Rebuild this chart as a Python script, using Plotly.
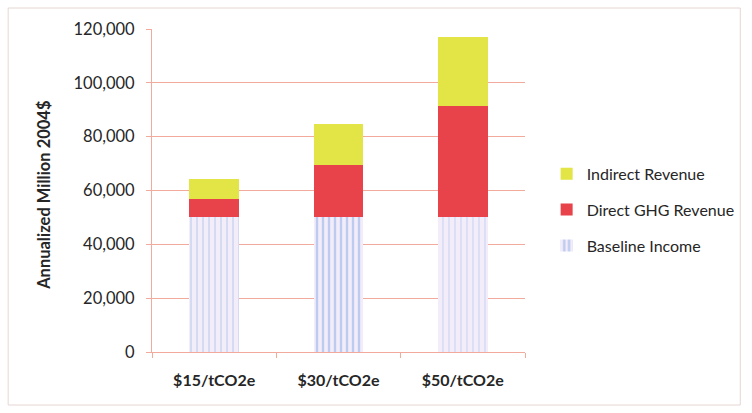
import plotly.graph_objects as go

# Carbon price scenarios and annualized income components (million 2004$)
scenarios = ["$15/tCO2e", "$30/tCO2e", "$50/tCO2e"]
baseline_income = [50000, 50000, 50000]
direct_ghg_revenue = [7000, 19500, 41400]
indirect_revenue = [7100, 15200, 25500]

y_ticks = [0, 20000, 40000, 60000, 80000, 100000, 120000]

grid_color = "#f2aa9c"
text_color = "#262626"
font_family = "Lato, 'Open Sans', sans-serif"

fig = go.Figure()

fig.add_trace(go.Bar(
    x=scenarios, y=baseline_income, name="Baseline Income",
    legendgroup="c", legendrank=3, width=0.4,
    marker=dict(
        color="#f3ecf9",
        line=dict(width=0),
        pattern=dict(shape="|", fgcolor="#a9c0ec", bgcolor="#f3ecf9",
                     size=6, solidity=[0.18, 0.4, 0.14], fgopacity=0.75),
    ),
))
fig.add_trace(go.Bar(
    x=scenarios, y=direct_ghg_revenue, name="Direct GHG Revenue",
    legendgroup="b", legendrank=2, width=0.4,
    marker=dict(color="#e8434b", line=dict(width=0)),
))
fig.add_trace(go.Bar(
    x=scenarios, y=indirect_revenue, name="Indirect Revenue",
    legendgroup="a", legendrank=1, width=0.4,
    marker=dict(color="#e3e445", line=dict(width=0)),
))

fig.update_layout(
    width=752, height=413,
    margin=dict(l=152, r=224, t=29, b=61),
    barmode="stack",
    paper_bgcolor="white", plot_bgcolor="white",
    font=dict(family=font_family, color=text_color),
    showlegend=True,
    legend=dict(
        x=1.058, y=0.44, xanchor="left", yanchor="middle",
        traceorder="grouped", tracegroupgap=12,
        font=dict(size=16, color=text_color),
        itemwidth=30, bgcolor="rgba(0,0,0,0)",
    ),
    xaxis=dict(
        showgrid=False, showline=True, linecolor=grid_color, linewidth=1,
        ticks="outside", tickson="boundaries", ticklen=5, tickcolor=grid_color,
        tickfont=dict(size=16, family=font_family, color=text_color,
                      weight="bold"),
        ticklabelstandoff=14,
    ),
    yaxis=dict(
        range=[0, 120000], tickvals=y_ticks,
        ticktext=[f"{v:,}" for v in y_ticks],
        showgrid=True, gridcolor=grid_color, gridwidth=1,
        showline=True, linecolor=grid_color, linewidth=1,
        ticks="outside", ticklen=5, tickcolor=grid_color,
        tickfont=dict(size=16.5, color=text_color),
        ticklabelstandoff=8,
        zeroline=False,
    ),
)

# Rotated y-axis title
fig.add_annotation(
    text="<b>Annualized Million 2004$</b>", textangle=-90,
    xref="paper", yref="paper", x=-109 / 376, y=(352 - 195) / 323,
    xanchor="center", yanchor="middle", showarrow=False,
    font=dict(size=16.5, family=font_family, color=text_color),
)

# Faint frame around the whole chart area
fig.add_shape(type="rect", xref="paper", yref="paper",
              x0=-145 / 376, x1=593 / 376, y0=-53 / 323, y1=344 / 323,
              line=dict(color="#e6d6d2", width=1), layer="below")

fig.write_html("out.html")
